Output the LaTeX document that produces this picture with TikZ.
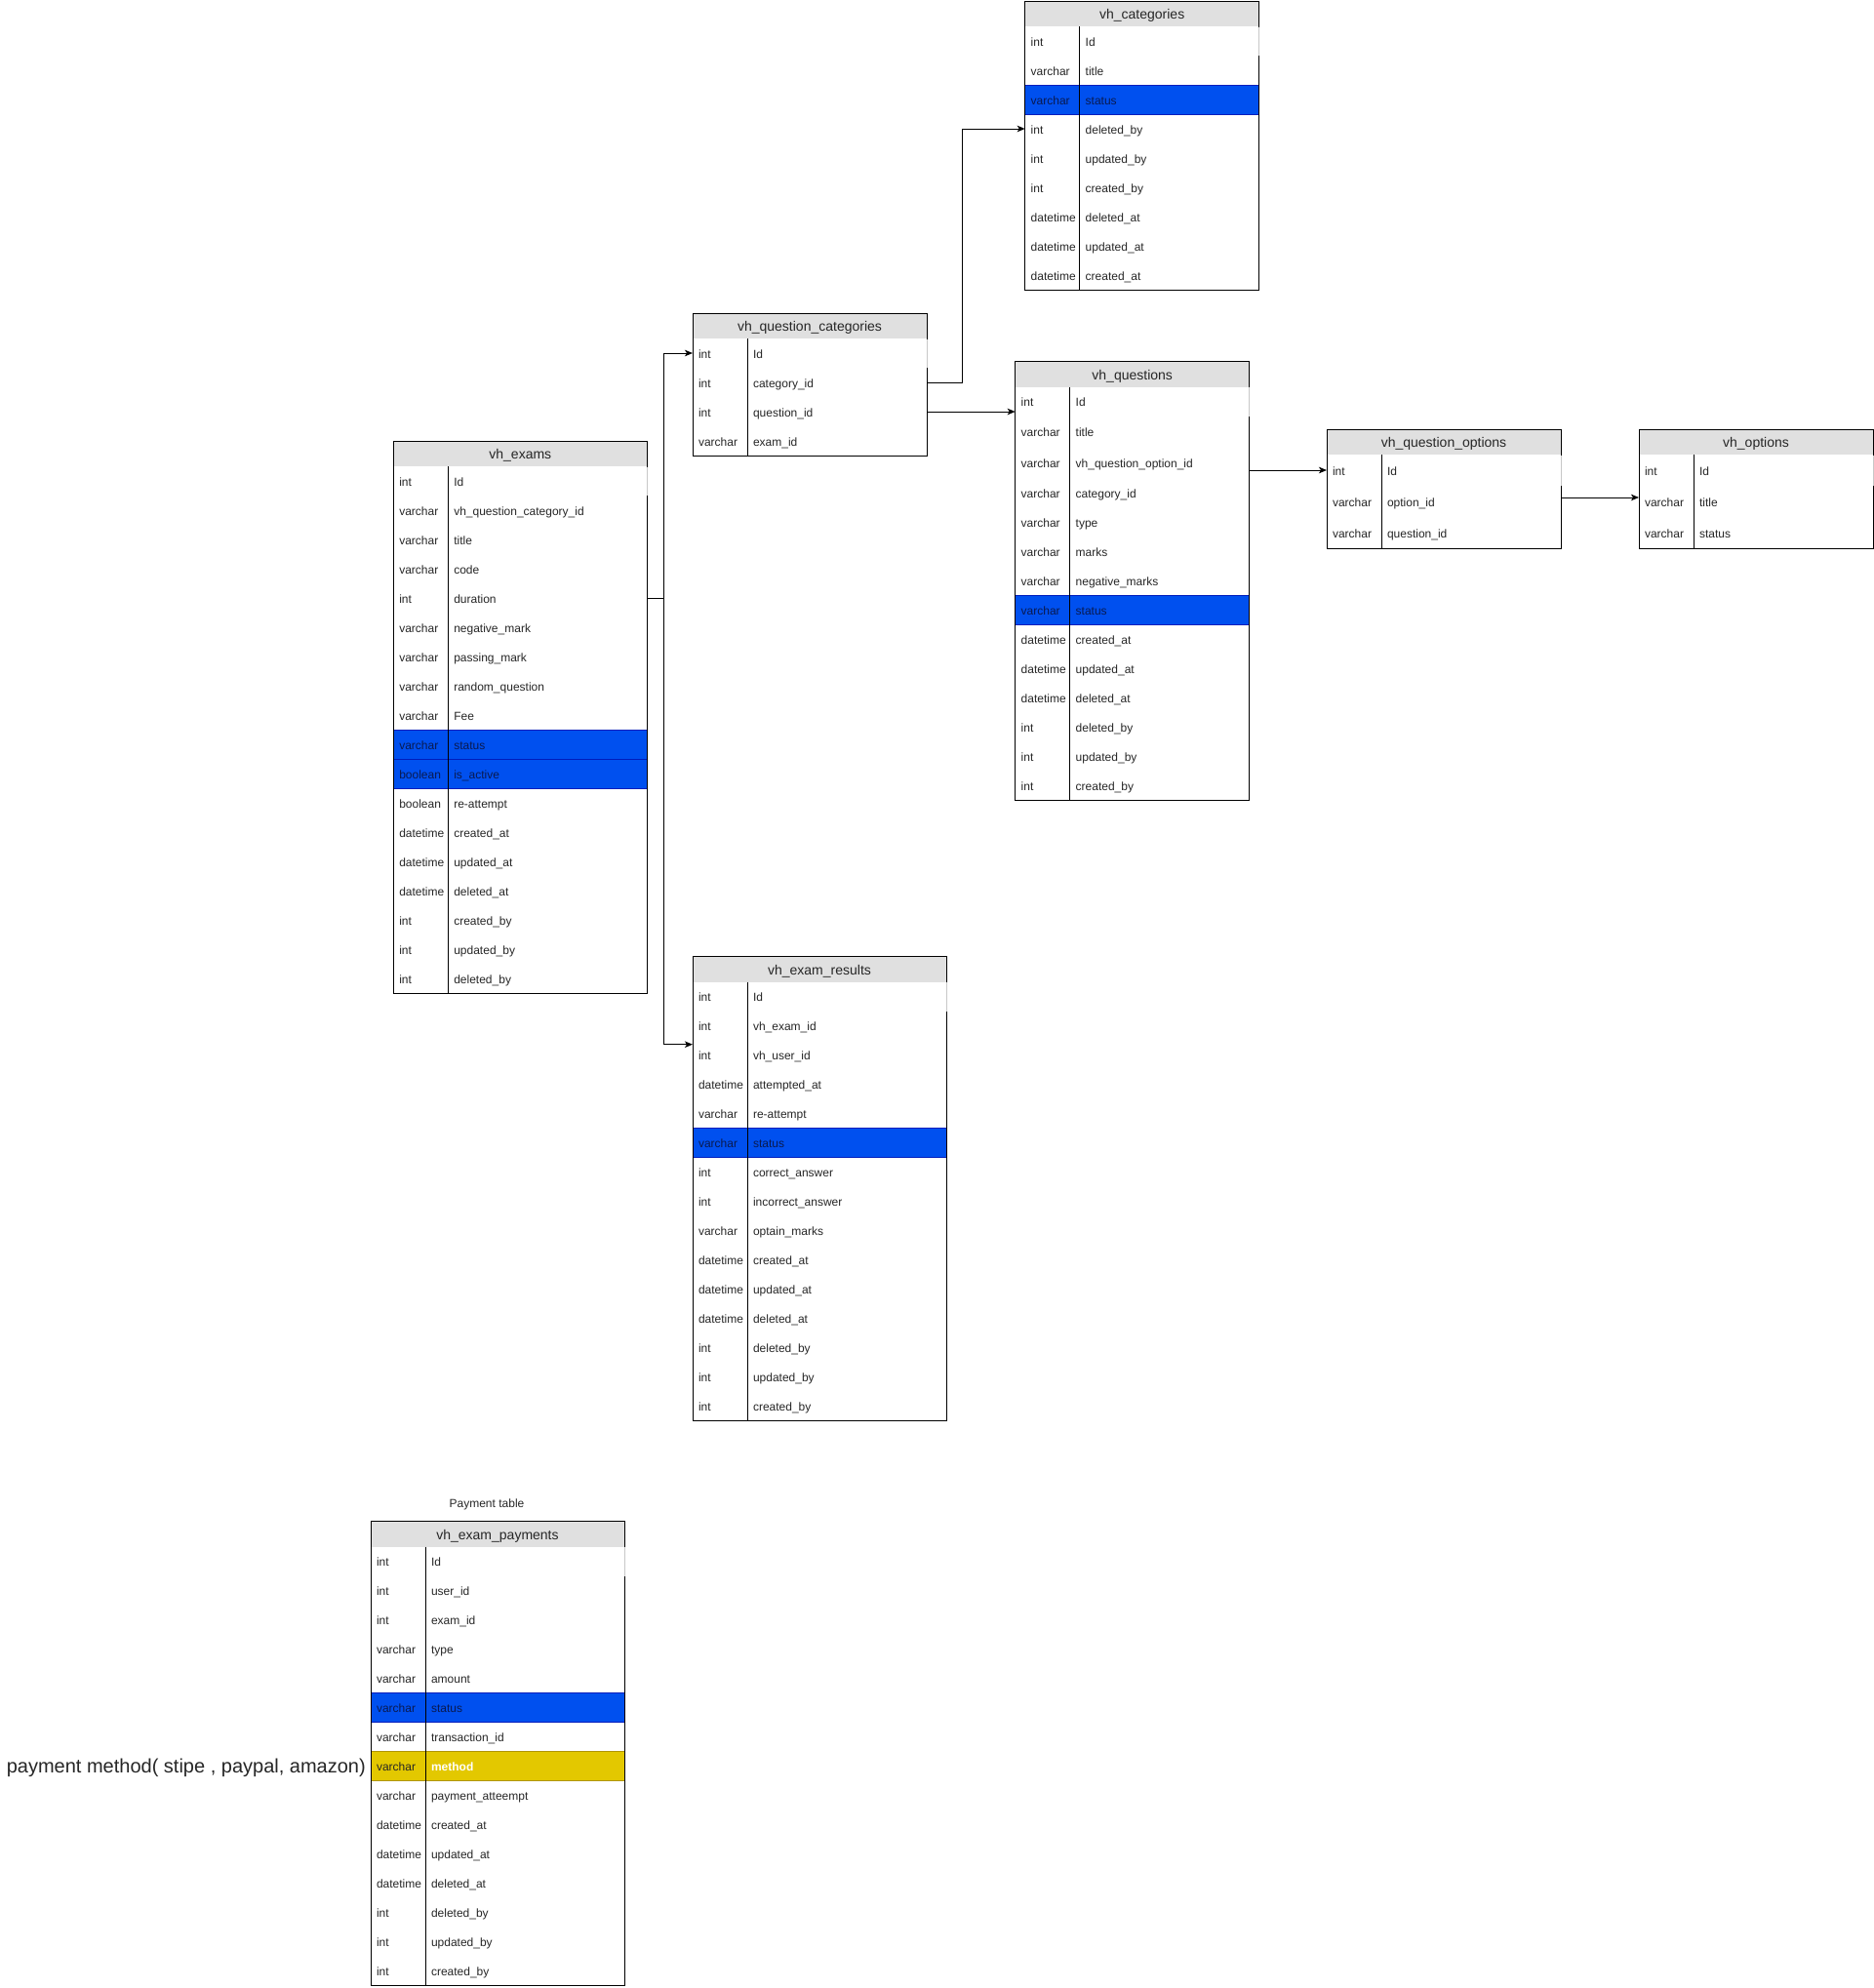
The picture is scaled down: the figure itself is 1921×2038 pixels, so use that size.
\documentclass[tikz,border=0pt]{standalone}
\usepackage{fontspec}
\setmainfont{Liberation Sans}
\usetikzlibrary{calc,arrows.meta}

\definecolor{hdrgray}{HTML}{E0E0E0}
\definecolor{idgray}{HTML}{C8C8C8}
\definecolor{hiblue}{HTML}{0050EF}
\definecolor{hiblueline}{HTML}{001DBC}
\definecolor{hiyellow}{HTML}{E3C800}
\definecolor{hiyellowline}{HTML}{B09500}
\definecolor{txtdark}{HTML}{262626}
\definecolor{txtnavy}{HTML}{0A1A50}

\tikzset{
  hdr/.style={draw=none, fill=hdrgray, minimum height=26pt, inner sep=0pt, outer sep=0pt,
    text height=14pt, text depth=3pt, text=txtdark, font=\fontsize{14}{16}\selectfont},
  rowbox/.style={inner sep=0pt, outer sep=0pt},
  rowp/.style={draw=none, fill=none},
  rowb/.style={fill=hiblue, draw=hiblueline, line width=1pt},
  rowy/.style={fill=hiyellow, draw=hiyellowline, line width=1pt},
  rowkind/.code={\pgfkeysalso{/tikz/row#1}},
  celltxt/.style={inner sep=0pt, outer sep=0pt, text height=12.6pt, text depth=2.6pt,
    font=\fontsize{12}{14}\selectfont},
  typep/.style={text=txtdark}, typeb/.style={text=txtnavy}, typey/.style={text=txtdark},
  fieldp/.style={text=txtdark}, fieldb/.style={text=txtnavy},
  fieldy/.style={text=white, font=\fontsize{12}{14}\selectfont\bfseries},
  typekind/.code={\pgfkeysalso{/tikz/type#1}},
  fieldkind/.code={\pgfkeysalso{/tikz/field#1}},
  tblline/.style={draw=black, line width=1pt},
  conn/.style={draw=black, line width=1pt, -{Stealth[length=8pt,width=6.5pt,inset=2pt]}},
  plainline/.style={draw=black, line width=1pt},
  note/.style={inner sep=0pt, text=txtdark},
}

% one entity table: name, left, top, width, title, rows (type/field/kind/height)
\newcommand{\ertable}[6]{%
  \node[hdr, minimum width=#4pt, anchor=north west] (#1) at (#2,#3) {#5};
  \pgfmathsetmacro\cury{#3+26}\xdef\cury{\cury}%
  \xdef\firsth{30}%
  \foreach \ty/\fd/\st/\h [count=\i] in {#6} {
    \node[rowbox, rowkind/.expanded=\st, minimum width=#4pt, minimum height=\h pt,
      anchor=north west] (#1-\i) at (#2,\cury) {};
    \node[celltxt, typekind/.expanded=\st, anchor=west] (#1-\i-t) at ($(#1-\i.west)+(6,0)$) {\ty};
    \node[celltxt, fieldkind/.expanded=\st, anchor=west] (#1-\i-f) at ($(#1-\i.west)+(62,0)$) {\fd};
    \ifnum\i=1 \xdef\firsth{\h}\fi
    \pgfmathsetmacro\tmp{\cury+\h}\xdef\cury{\tmp}
  }
  \draw[tblline] (#2,#3) rectangle ({#2+#4},\cury);
  \draw[tblline] ({#2+56},{#3+26}) -- ({#2+56},\cury);
  \draw[draw=idgray, line width=1pt] ({#2+#4},{#3+26.5}) -- ({#2+#4},{#3+26+\firsth});
}

\begin{document}
\begin{tikzpicture}[x=1pt, y=-1pt]
\useasboundingbox (0,0) rectangle (1921,2038);

\ertable{cat}{1050.7}{1}{240}{vh\_categories}{
  int/Id/p/30, varchar/title/p/30, varchar/status/b/30,
  int/deleted\_by/p/30, int/updated\_by/p/30, int/created\_by/p/30,
  datetime/deleted\_at/p/30, datetime/updated\_at/p/30, datetime/created\_at/p/30}

\ertable{qc}{710}{321}{240}{vh\_question\_categories}{
  int/Id/p/30, int/category\_id/p/30, int/question\_id/p/30, varchar/exam\_id/p/30}

\ertable{q}{1040.7}{370.7}{240}{vh\_questions}{
  int/Id/p/30, varchar/title/p/32, varchar/vh\_question\_option\_id/p/32,
  varchar/category\_id/p/30, varchar/type/p/30, varchar/marks/p/30,
  varchar/negative\_marks/p/30, varchar/status/b/30,
  datetime/created\_at/p/30, datetime/updated\_at/p/30, datetime/deleted\_at/p/30,
  int/deleted\_by/p/30, int/updated\_by/p/30, int/created\_by/p/30}

\ertable{qo}{1360}{440}{240}{vh\_question\_options}{
  int/Id/p/32, varchar/option\_id/p/32, varchar/question\_id/p/32}

\ertable{opt}{1680}{440}{240}{vh\_options}{
  int/Id/p/32, varchar/title/p/32, varchar/status/p/32}

\ertable{ex}{403.3}{452.3}{260}{vh\_exams}{
  int/Id/p/30, varchar/vh\_question\_category\_id/p/30, varchar/title/p/30,
  varchar/code/p/30, int/duration/p/30, varchar/negative\_mark/p/30,
  varchar/passing\_mark/p/30, varchar/random\_question/p/30, varchar/Fee/p/30,
  varchar/status/b/30, boolean/is\_active/b/30, boolean/re-attempt/p/30,
  datetime/created\_at/p/30, datetime/updated\_at/p/30, datetime/deleted\_at/p/30,
  int/created\_by/p/30, int/updated\_by/p/30, int/deleted\_by/p/30}

\ertable{res}{710}{980.7}{260}{vh\_exam\_results}{
  int/Id/p/30, int/vh\_exam\_id/p/30, int/vh\_user\_id/p/30,
  datetime/attempted\_at/p/30, varchar/re-attempt/p/30, varchar/status/b/30,
  int/correct\_answer/p/30, int/incorrect\_answer/p/30, varchar/optain\_marks/p/30,
  datetime/created\_at/p/30, datetime/updated\_at/p/30, datetime/deleted\_at/p/30,
  int/deleted\_by/p/30, int/updated\_by/p/30, int/created\_by/p/30}

\ertable{pay}{380}{1559.6}{260}{vh\_exam\_payments}{
  int/Id/p/30, int/user\_id/p/30, int/exam\_id/p/30, varchar/type/p/30,
  varchar/amount/p/30, varchar/status/b/30, varchar/transaction\_id/p/30,
  varchar/method/y/30, varchar/payment\_atteempt/p/30,
  datetime/created\_at/p/30, datetime/updated\_at/p/30, datetime/deleted\_at/p/30,
  int/deleted\_by/p/30, int/updated\_by/p/30, int/created\_by/p/30}

% captions
\node[note, font=\fontsize{12}{14}\selectfont] (paycap) at (499,1542.5) {Payment table};
\node[note, font=\fontsize{20}{24}\selectfont, anchor=east] (methodnote)
  at ($(pay-8.west)+(-5,2)$) {payment method( stipe , paypal, amazon)};

% relations
\draw[conn] (qc-2.east) -- ++(36,0) |- (cat-4.west);
\draw[conn] (qc-3.east) -- (qc-3.east -| q.west);
\draw[conn] (q-1.east |- qo-1.west) -- (qo-1.west);
\draw[conn] ($(qo-2.east)+(0,-4)$) -- ($(opt-2.west)+(0,-4)$);
\draw[plainline] (ex-5.east) -- ++(17,0) coordinate (split);
\draw[conn] (split) |- (qc-1.west);
\draw[conn] (split) |- ($(res-3.north west)+(0,4)$);

\end{tikzpicture}
\end{document}
